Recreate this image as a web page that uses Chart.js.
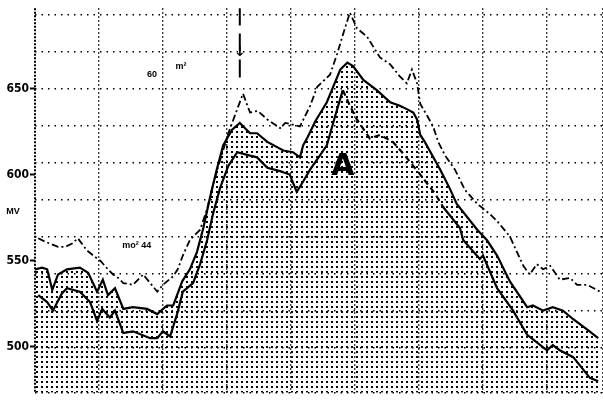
<!DOCTYPE html>
<html>
<head>
<meta charset="utf-8">
<script src="https://cdn.jsdelivr.net/npm/chart.js@4.4.0/dist/chart.umd.min.js"></script>
<style>
  body { margin: 0; background: #fff; }
  canvas { display: block; }
</style>
</head>
<body>
<canvas id="grafico" width="603" height="401"></canvas>
<script>
// valores (x em unidades da grade, y em mV)
const upperX = [0.5,1.6,2.3,3.6,4.7,5.8,6.7,8.1,9.1,10.2,11.4,12.2,13.0,13.8,15.3,16.9,18.0,19.1,20.0,21.6,22.3,23.1,24.2,25.8,26.9,27.8,28.9,30.2,31.4,32.5,33.6,34.8,36.3,38.3,39.1,41.4,43.0,44.1,46.1,47.2,48.1,49.2,50.3,51.9,53.9,55.5,57.0,58.1,58.9,59.7,60.2,61.3,62.2,63.0,64.1,65.6,67.2,69.1,71.1,72.2,74.2,76.3,77.3,78.4,79.4,80.5,82.0,83.6,84.7,86.3,88.3];
const upperY = [563,561,560,558,558,560,563,556,553,550,545,542,540,537,536,542,537,532,536,541,545,553,562,568,580,594,608,624,636,647,636,637,632,627,630,628,640,651,658,670,681,694,685,680,668,664,657,653,661,653,641,634,628,619,611,603,591,583,577,573,564,547,542,548,545,547,539,540,536,536,532];

const middleX = [0,1.1,1.9,2.7,3.6,5.0,7.0,8.3,9.7,10.6,11.4,12.5,13.8,15.3,17.5,19.1,20.6,21.6,23.0,24.2,25.3,26.3,27.3,28.4,29.4,30.8,32.0,33.6,34.7,36.3,38.8,40.3,41.4,41.9,42.5,43.8,45.6,47.7,48.8,49.7,51.3,53.4,55.5,57.0,58.1,59.1,59.7,60.2,60.9,63.3,64.8,65.9,69.1,70.6,72.2,74.2,76.9,77.8,79.4,80.9,82.5,84.1,86.3,88.0];
const middleY = [545,546,545,533,542,545,546,543,532,539,530,534,522,523,522,519,524,524,538,545,555,569,586,603,617,626,630,624,624,619,614,613,610,617,621,631,642,661,665,663,655,649,642,640,638,636,632,623,619,603,592,583,568,562,553,538,523,524,521,523,521,516,510,505];

const lowerX = [0.5,1.9,2.8,4.2,5.0,7.0,8.6,9.7,10.5,11.7,12.5,13.8,15.3,18.0,19.1,20.0,21.1,22.2,23.1,24.7,25.8,26.9,27.8,28.9,30.2,31.6,33.6,34.7,36.3,38.3,39.8,40.9,41.9,43.0,44.5,45.6,46.9,48.1,49.2,50.3,52.3,53.9,55.9,57.8,60.2,62.5,63.8,66.4,66.9,69.5,70.0,72.2,74.7,76.9,80.0,80.9,82.0,84.1,86.7,88.0];
const lowerY = [530,526,521,531,534,532,526,515,522,517,521,508,509,505,505,509,506,519,532,537,548,562,577,592,605,613,611,610,604,602,600,590,596,603,611,617,634,649,640,632,621,623,619,611,600,589,581,569,562,551,553,534,521,507,498,501,498,494,482,480];

const markerX = [32.0, 32.0];
const markerY = [697, 652];

const yTicks = [500, 550, 600, 650];
const gridRows = [693, 671.5, 650, 628.5, 607, 585.5, 564, 542.5, 521, 499.5, 473.3];

function pontos(xs, ys) {
    return xs.map((v, i) => ({ x: v, y: ys[i] }));
}

// textura pontilhada da área
const tile = document.createElement("canvas");
tile.width = 5;
tile.height = 5;
const tc = tile.getContext("2d");
tc.fillStyle = "#000";
tc.fillRect(1, 1, 2, 2);
const stipple = tc.createPattern(tile, "repeat");

const notas = {
    id: "notas",
    afterDatasetsDraw(chart) {
        const { ctx, scales: { x, y } } = chart;
        ctx.save();
        ctx.fillStyle = "#000";
        ctx.textAlign = "center";
        ctx.textBaseline = "middle";
        ctx.font = "bold 30px 'DejaVu Sans'";
        ctx.fillText("A", x.getPixelForValue(48.1), y.getPixelForValue(604));
        ctx.font = "bold 9px 'Liberation Sans'";
        ctx.fillText("60", x.getPixelForValue(18.3), y.getPixelForValue(658));
        ctx.fillText("m²", x.getPixelForValue(22.8), y.getPixelForValue(663));
        ctx.fillText("mo² 44", x.getPixelForValue(15.9), y.getPixelForValue(559));
        ctx.font = "bold 14px 'DejaVu Sans'";
        ctx.fillText("↓", x.getPixelForValue(32.0), y.getPixelForValue(671));
        ctx.font = "bold 9px 'Liberation Sans'";
        ctx.fillText("MV", 13, 212);
        ctx.restore();
    }
};

const ctx = document.getElementById("grafico");

new Chart(ctx, {
    type: "line",
    data: {
        datasets: [{
            label: "superior",
            data: pontos(upperX, upperY),
            borderColor: "#000",
            borderWidth: 1.8,
            borderDash: [7, 3, 2, 3],
            pointRadius: 0,
            fill: false
        }, {
            label: "media",
            data: pontos(middleX, middleY),
            borderColor: "#000",
            borderWidth: 2.2,
            pointRadius: 0,
            backgroundColor: stipple,
            fill: "start"
        }, {
            label: "inferior",
            data: pontos(lowerX, lowerY),
            borderColor: "#000",
            borderWidth: 2.2,
            pointRadius: 0,
            fill: false,
            segment: {
                borderDash: c => (c.p0.parsed.x >= 48 && c.p1.parsed.x <= 64) ? [6, 4] : undefined
            }
        }, {
            label: "marca",
            data: pontos(markerX, markerY),
            borderColor: "#000",
            borderWidth: 2,
            borderDash: [18, 8],
            pointRadius: 0,
            fill: false
        }]
    },
    options: {
        responsive: false,
        animation: false,
        layout: { padding: 0 },
        plugins: {
            legend: { display: false },
            tooltip: { enabled: false }
        },
        scales: {
            x: {
                type: "linear",
                min: 0,
                max: 88.75,
                ticks: { display: false, stepSize: 10 },
                grid: {
                    color: "#000",
                    lineWidth: c => c.tick && c.tick.value === 0 ? 2 : 1.4,
                    drawTicks: false
                },
                border: {
                    display: false,
                    dash: c => c.tick && c.tick.value === 0 ? [2, 1.5] : [1.5, 2.5]
                },
                afterFit: s => { s.height = 8; }
            },
            y: {
                min: 473.3,
                max: 696.6,
                afterBuildTicks: s => { s.ticks = yTicks.map(v => ({ value: v })); },
                ticks: {
                    color: "#000",
                    padding: 1,
                    font: { family: "'Liberation Sans Narrow', 'DejaVu Sans Condensed', 'Liberation Sans'", size: 12, weight: "bold" },
                    callback: v => String(v)
                },
                grid: {
                    drawOnChartArea: false,
                    drawTicks: true,
                    tickLength: 5,
                    tickColor: "#000",
                    tickWidth: 2
                },
                border: { display: false },
                afterFit: s => { s.width = 35; }
            },
            yg: {
                position: "right",
                min: 473.3,
                max: 696.6,
                afterBuildTicks: s => { s.ticks = gridRows.map(v => ({ value: v })); },
                ticks: { display: false },
                grid: { color: "#000", lineWidth: 1.4, drawTicks: false },
                border: { display: false, dash: [1.5, 5] },
                afterFit: s => { s.width = 0; }
            }
        }
    },
    plugins: [notas]
});
</script>
</body>
</html>
